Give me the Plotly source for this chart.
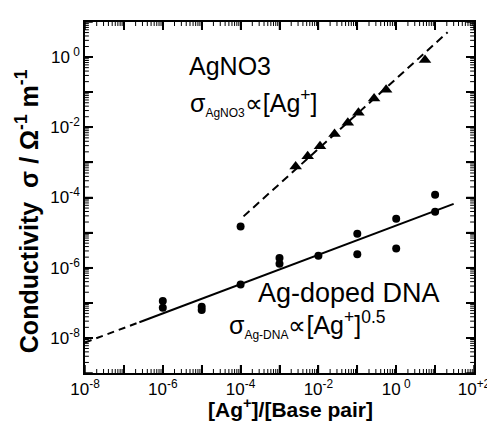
import plotly.graph_objects as go

# ---- data ----
dna_x = [1e-6, 1e-6, 1e-5, 1e-5, 1e-4, 1e-4, 1e-3, 1e-3, 1e-2, 1e-1, 1e-1, 1.0, 1.0, 10.0, 10.0]
dna_y = [1.12e-7, 7.2e-8, 7.7e-8, 6.2e-8, 1.5e-5, 3.3e-7, 1.9e-6, 1.3e-6, 2.2e-6,
         9.3e-6, 2.4e-6, 2.5e-5, 3.5e-6, 1.2e-4, 3.9e-5]

agno3_x = [2.6e-3, 5.3e-3, 1.1e-2, 2.6e-2, 5.7e-2, 0.107, 0.27, 0.55, 5.5]
agno3_y = [7.6e-4, 1.5e-3, 2.9e-3, 6.4e-3, 1.35e-2, 2.6e-2, 6.6e-2, 0.118, 0.83]

# fit lines (end points)
dna_fit_dash_x = [1e-8, 2.5e-7]
dna_fit_dash_y = [7.4e-9, 2.8e-8]
dna_fit_solid_x = [2.5e-7, 30.0]
dna_fit_solid_y = [2.8e-8, 6.6e-5]
agno3_fit_x = [1.19e-4, 21.0]
agno3_fit_y = [2.9e-5, 5.1]

# ticks
x_major = [1e-8, 1e-7, 1e-6, 1e-5, 1e-4, 1e-3, 1e-2, 1e-1, 1e0, 1e1, 1e2]
x_major_text = ["10<sup>-8</sup>", "", "10<sup>-6</sup>", "", "10<sup>-4</sup>", "",
                "10<sup>-2</sup>", "", "10<sup> 0</sup>", "", "10<sup>+2</sup>"]
y_major = [1e-9, 1e-8, 1e-7, 1e-6, 1e-5, 1e-4, 1e-3, 1e-2, 1e-1, 1e0, 1e1]
y_major_text = ["", "10<sup>-8</sup>", "", "10<sup>-6</sup>", "", "10<sup>-4</sup>", "",
                "10<sup>-2</sup>", "", "10<sup> 0</sup>", ""]
minor_mult = [2, 3, 4, 5, 6, 7, 8, 9]
x_decades = [-8, -7, -6, -5, -4, -3, -2, -1, 0, 1]
y_decades = [-9, -8, -7, -6, -5, -4, -3, -2, -1, 0]
x_minor = [m * 10.0 ** d for d in x_decades for m in minor_mult]
y_minor = [m * 10.0 ** d for d in y_decades for m in minor_mult]

x_title = "<b>[Ag<sup>+</sup>]/[Base pair]</b>"
y_title = "<b>Conductivity  σ / Ω<sup>-1</sup> m<sup>-1</sup></b>"

FONT = "Liberation Sans, Arial, Helvetica, sans-serif"

fig = go.Figure()
fig.add_trace(go.Scatter(x=dna_fit_dash_x, y=dna_fit_dash_y, mode="lines",
                         line=dict(color="black", width=2, dash="7px,5px"), showlegend=False))
fig.add_trace(go.Scatter(x=dna_fit_solid_x, y=dna_fit_solid_y, mode="lines",
                         line=dict(color="black", width=2), showlegend=False))
fig.add_trace(go.Scatter(x=agno3_fit_x, y=agno3_fit_y, mode="lines",
                         line=dict(color="black", width=2, dash="8px,5px"), showlegend=False))
fig.add_trace(go.Scatter(x=dna_x, y=dna_y, mode="markers",
                         marker=dict(symbol="circle", size=8, color="black"), showlegend=False))
fig.add_trace(go.Scatter(x=agno3_x, y=agno3_y, mode="markers",
                         marker=dict(symbol="triangle-up", size=11, color="black"), showlegend=False))

fig.update_layout(
    width=495, height=421, margin=dict(l=77, r=17, t=14, b=56),
    paper_bgcolor="white", plot_bgcolor="white",
    font=dict(family=FONT, color="black"),
    xaxis=dict(type="log", range=[-8, 2], tickmode="array", tickvals=x_major,
               ticktext=x_major_text, ticks="inside", ticklen=8, tickwidth=1.5,
               tickcolor="black", showline=True, linecolor="black", linewidth=1.5,
               mirror="ticks", showgrid=False,
               tickfont=dict(family=FONT, size=17, color="black")),
    yaxis=dict(type="log", range=[-9, 1], tickmode="array", tickvals=y_major,
               ticktext=y_major_text, ticks="inside", ticklen=8, tickwidth=1.5,
               tickcolor="black", showline=True, linecolor="black", linewidth=1.5,
               mirror="ticks", showgrid=False,
               tickfont=dict(family=FONT, size=17, color="black")),
)

# inward tick marks on all four sides, generated from the tick value lists
MAJ_X, MIN_X = 8 / 401, 4 / 401   # tick lengths as fractions of plot width
MAJ_Y, MIN_Y = 8 / 351, 4 / 351   # tick lengths as fractions of plot height
tick_shapes = []
for vals, ln_y, w in ((x_major, MAJ_Y, 1.5), (x_minor, MIN_Y, 1)):
    for v in vals:
        tick_shapes.append(dict(type="line", xref="x", yref="paper", x0=v, x1=v,
                                y0=0, y1=ln_y, line=dict(color="black", width=w)))
        tick_shapes.append(dict(type="line", xref="x", yref="paper", x0=v, x1=v,
                                y0=1, y1=1 - ln_y, line=dict(color="black", width=w)))
for vals, ln_x, w in ((y_major, MAJ_X, 1.5), (y_minor, MIN_X, 1)):
    for v in vals:
        tick_shapes.append(dict(type="line", xref="paper", yref="y", y0=v, y1=v,
                                x0=0, x1=ln_x, line=dict(color="black", width=w)))
        tick_shapes.append(dict(type="line", xref="paper", yref="y", y0=v, y1=v,
                                x0=1, x1=1 - ln_x, line=dict(color="black", width=w)))
fig.update_layout(shapes=tick_shapes)

# axis titles
fig.add_annotation(xref="paper", yref="paper", x=0.529, y=-0.1, xanchor="center",
                   yanchor="middle", text=x_title, showarrow=False,
                   font=dict(family=FONT, size=21, color="black"))
fig.add_annotation(xref="paper", yref="paper", x=-0.15, y=0.46, xanchor="center",
                   yanchor="middle", text=y_title, textangle=-90, showarrow=False,
                   font=dict(family=FONT, size=25, color="black"))

ann_font = dict(family=FONT, size=25, color="black")
fig.add_annotation(xref="paper", yref="paper", x=0.262, y=0.875, xanchor="left", yanchor="middle",
                   text="AgNO3", showarrow=False, font=ann_font)
fig.add_annotation(xref="paper", yref="paper", x=0.264, y=0.772, xanchor="left", yanchor="middle",
                   text="σ<sub><span style='font-size:12px'>AgNO3</span></sub>∝[Ag<sup>+</sup>]",
                   showarrow=False, font=ann_font)
fig.add_annotation(xref="paper", yref="paper", x=0.44, y=0.228, xanchor="left", yanchor="middle",
                   text="Ag-doped DNA", showarrow=False, font=dict(family=FONT, size=27, color="black"))
fig.add_annotation(xref="paper", yref="paper", x=0.365, y=0.138, xanchor="left", yanchor="middle",
                   text="σ<sub><span style='font-size:12px'>Ag-DNA</span></sub>∝[Ag<sup>+</sup>]<sup>0.5</sup>",
                   showarrow=False, font=ann_font)

fig.write_html("out.html")
